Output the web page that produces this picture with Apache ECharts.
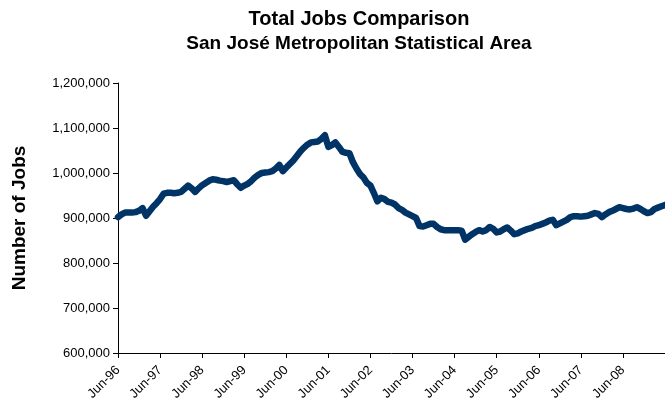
<!DOCTYPE html>
<html>
<head>
<meta charset="utf-8">
<script src="https://cdn.jsdelivr.net/npm/echarts@6/dist/echarts.min.js"></script>
<style>
  html, body { margin: 0; padding: 0; background: #fff; }
  #chart { width: 665px; height: 416px; }
</style>
</head>
<body>
<div id="chart"></div>
<script>
// Monthly total jobs, San José MSA, starting Jun-96
const monthNames = ['Jan','Feb','Mar','Apr','May','Jun','Jul','Aug','Sep','Oct','Nov','Dec'];
const startYear = 1996;
const startMonth = 5; // June

const jobs = [
  // Jun-96 .. May-97
  902, 908, 912, 912, 912, 913, 916, 922, 905, 915, 925, 933,
  // Jun-97 .. May-98
  942, 954, 956, 956, 955, 956, 958, 965, 972, 966, 958, 966,
  // Jun-98 .. May-99
  973, 978, 983, 986, 985, 983, 982, 980, 982, 984, 975, 967,
  // Jun-99 .. May-00
  972, 976, 982, 990, 996, 1000, 1001, 1002, 1004, 1010, 1018, 1004,
  // Jun-00 .. May-01
  1012, 1020, 1028, 1038, 1048, 1056, 1063, 1068, 1069, 1070, 1076, 1084,
  // Jun-01 .. May-02
  1058, 1062, 1068, 1058, 1047, 1045, 1044, 1024, 1010, 998, 990, 978,
  // Jun-02 .. May-03
  972, 955, 937, 945, 942, 936, 934, 930, 922, 918, 912, 908,
  // Jun-03 .. May-04
  904, 900, 882, 881, 884, 887, 887, 880, 875, 873, 873, 873,
  // Jun-04 .. May-05
  873, 873, 872, 852, 858, 864, 869, 873, 870, 873, 880, 876,
  // Jun-05 .. May-06
  868, 870, 875, 879, 872, 864, 866, 870, 873, 876, 878, 882,
  // Jun-06 .. May-07
  884, 887, 890, 894, 896, 884, 888, 892, 896, 902, 904, 904,
  // Jun-07 .. May-08
  903, 904, 905, 908, 911, 909, 902, 908, 913, 916, 920, 924,
  // Jun-08 .. Jun-09
  922, 920, 919, 921, 924, 920, 915, 911, 913, 920, 923, 926, 929
].map(v => v * 1000);

const categories = jobs.map((_, i) => {
  const m = (startMonth + i) % 12;
  const y = startYear + Math.floor((startMonth + i) / 12);
  return monthNames[m] + '-' + String(y).slice(2);
});

const titleLine1 = 'Total Jobs Comparison';
const titleLine2 = 'San José Metropolitan Statistical Area';
const yAxisTitle = 'Number of Jobs';

const yMin = 600000, yMax = 1200000, yStep = 100000;
const labelEvery = 12;
const lastLabelIndex = 144; // Jun-08

const showYearMark = (i) => i % labelEvery === 0 && i <= lastLabelIndex;
const font = 'Liberation Sans, Arial, sans-serif';

const chart = echarts.init(document.getElementById('chart'), null, { renderer: 'canvas' });
chart.setOption({
  animation: false,
  backgroundColor: '#ffffff',
  title: {
    text: titleLine1,
    subtext: titleLine2,
    left: 354,
    top: 4,
    textAlign: 'center',
    itemGap: 5,
    textStyle: {
      fontFamily: font,
      fontSize: 20,
      fontWeight: 'bold',
      color: '#000'
    },
    subtextStyle: {
      fontFamily: font,
      fontSize: 19,
      fontWeight: 'bold',
      color: '#000'
    }
  },
  grid: { left: 118, right: 0, top: 83, bottom: 63, containLabel: false },
  xAxis: {
    type: 'category',
    data: categories,
    boundaryGap: false,
    axisLine: { lineStyle: { color: '#000', width: 1 } },
    axisTick: { interval: (i) => showYearMark(i), length: 5, lineStyle: { color: '#000' } },
    axisLabel: {
      interval: (i) => showYearMark(i),
      rotate: 45,
      margin: 15,
      fontFamily: font,
      fontSize: 13,
      color: '#000'
    },
    splitLine: { show: false }
  },
  yAxis: {
    type: 'value',
    min: yMin,
    max: yMax,
    interval: yStep,
    name: yAxisTitle,
    nameLocation: 'middle',
    nameRotate: 90,
    nameGap: 89,
    nameTextStyle: {
      fontFamily: font,
      fontSize: 19,
      fontWeight: 'bold',
      color: '#000'
    },
    axisLine: { show: true, lineStyle: { color: '#000', width: 1 } },
    axisTick: { show: true, length: 5, inside: false, lineStyle: { color: '#000' } },
    axisLabel: {
      margin: 8,
      fontFamily: font,
      fontSize: 13,
      color: '#000',
      formatter: (v) => v.toLocaleString('en-US')
    },
    splitLine: { show: false }
  },
  series: [{
    type: 'line',
    data: jobs,
    symbol: 'none',
    smooth: false,
    lineStyle: { color: '#003366', width: 6.5, cap: 'round', join: 'round' }
  }]
});
</script>
</body>
</html>
